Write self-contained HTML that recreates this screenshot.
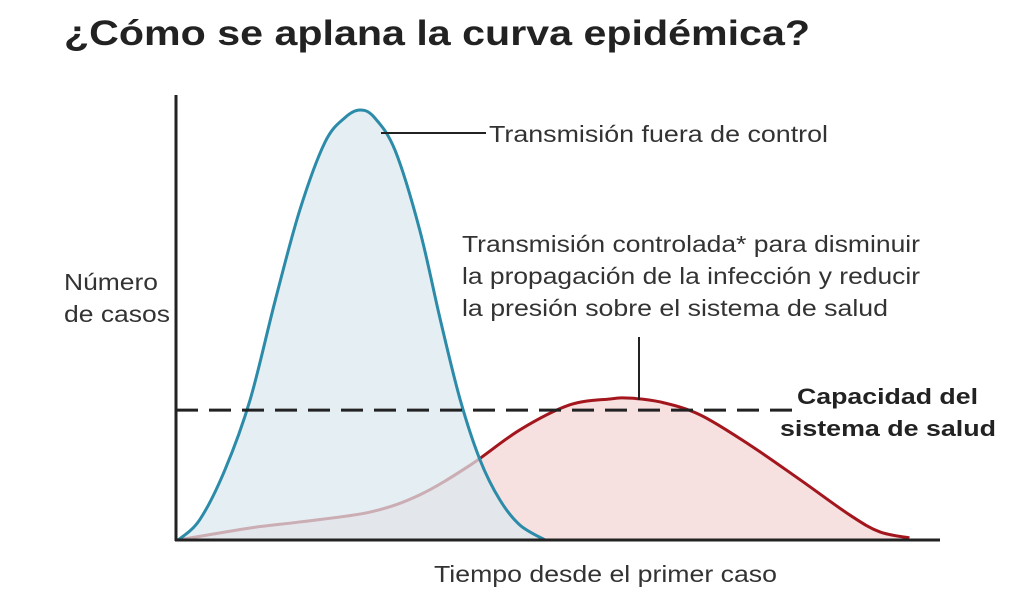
<!DOCTYPE html>
<html><head><meta charset="utf-8"><style>
html,body{margin:0;padding:0;background:#fff;width:1024px;height:611px;overflow:hidden;font-family:"Liberation Sans",sans-serif}
</style></head><body>
<svg width="1024" height="611" xmlns="http://www.w3.org/2000/svg">
<text x="64" y="45" font-size="35" font-weight="bold" fill="#222" textLength="746" lengthAdjust="spacingAndGlyphs">¿Cómo se aplana la curva epidémica?</text>
<g id="plot"></g>
<text x="64" y="290" font-size="23" fill="#333" textLength="94" lengthAdjust="spacingAndGlyphs">Número</text>
<text x="64" y="322" font-size="23" fill="#333" textLength="106" lengthAdjust="spacingAndGlyphs">de casos</text>
<text x="434" y="582" font-size="23" fill="#333" textLength="343" lengthAdjust="spacingAndGlyphs">Tiempo desde el primer caso</text>
<text x="489" y="142" font-size="23" fill="#333" textLength="339" lengthAdjust="spacingAndGlyphs">Transmisión fuera de control</text>
<text x="462" y="252" font-size="23" fill="#333" textLength="458" lengthAdjust="spacingAndGlyphs">Transmisión controlada* para disminuir</text>
<text x="462" y="284" font-size="23" fill="#333" textLength="458" lengthAdjust="spacingAndGlyphs">la propagación de la infección y reducir</text>
<text x="462" y="316" font-size="23" fill="#333" textLength="426" lengthAdjust="spacingAndGlyphs">la presión sobre el sistema de salud</text>
<text x="797" y="404" font-size="22" font-weight="bold" fill="#222" textLength="181" lengthAdjust="spacingAndGlyphs">Capacidad del</text>
<text x="780" y="436" font-size="22" font-weight="bold" fill="#222" textLength="216" lengthAdjust="spacingAndGlyphs">sistema de salud</text>
</svg>
<script>
const blueX=[0.3,3.1,6.4,9.7,13,16.2,19.5,22.1,24.1,26,28.7,31.9,34.6,37.2,39.8,42.4,45,48.3];
const blueY=[0,4.7,16.3,32.6,55.8,76.7,92.5,98.2,100,98.2,90.5,72.1,51.2,32.6,18.6,9.3,3.5,0];
const redX=[0.3,9.7,16.2,25.4,31.9,38.5,45,51.5,56.8,59.4,63.4,68.6,75.1,81.7,88.2,92.1,96];
const redY=[0,2.8,4.2,6.5,10.5,17.4,25.6,31.4,32.8,33,32.1,29.1,22.1,14,5.8,1.9,0.5];
const capacity=30.2;
const NS='http://www.w3.org/2000/svg';
const x0=176,x1=940,y0=540,y1=110;
const sx=v=>x0+v/100*(x1-x0), sy=v=>y0-v/100*(y0-y1);
function pathD(xs,ys){
  const p=xs.map((x,i)=>[sx(x),sy(ys[i])]);
  let d='M'+p[0][0]+','+p[0][1];
  for(let i=0;i<p.length-1;i++){
    const a=p[Math.max(0,i-1)],b=p[i],c=p[i+1],e=p[Math.min(p.length-1,i+2)];
    const c1=[b[0]+(c[0]-a[0])/6,b[1]+(c[1]-a[1])/6],c2=[c[0]-(e[0]-b[0])/6,c[1]-(e[1]-b[1])/6];
    d+=' C'+c1[0]+','+c1[1]+' '+c2[0]+','+c2[1]+' '+c[0]+','+c[1];
  }
  return d;
}
const g=document.getElementById('plot');
function add(tag,attrs){const el=document.createElementNS(NS,tag);for(const k in attrs)el.setAttribute(k,attrs[k]);g.appendChild(el);return el;}
const rd=pathD(redX,redY), bd=pathD(blueX,blueY);
let el;
el=add('path',{d:rd+' L'+sx(redX[redX.length-1])+','+y0+' Z',fill:'#f6e0e0'});


el=add('path',{d:rd,fill:'none',stroke:'#a3161d','stroke-width':3});


el=add('path',{d:bd+' Z',fill:'#dbe8ee','fill-opacity':0.72});


el=add('path',{d:bd,fill:'none',stroke:'#2b8ba8','stroke-width':3});


el=add('line',{x1:x0,x2:795,y1:sy(capacity),y2:sy(capacity),stroke:'#222','stroke-width':3,'stroke-dasharray':'22,11'});


el=add('line',{x1:381,x2:486,y1:133,y2:133,stroke:'#222','stroke-width':2});


el=add('line',{x1:639,x2:639,y1:337,y2:400,stroke:'#222','stroke-width':2});


el=add('line',{x1:x0,x2:x0,y1:95,y2:y0+1,stroke:'#222','stroke-width':3});


el=add('line',{x1:x0-1,x2:x1,y1:y0,y2:y0,stroke:'#222','stroke-width':3});


</script>
</body></html>
